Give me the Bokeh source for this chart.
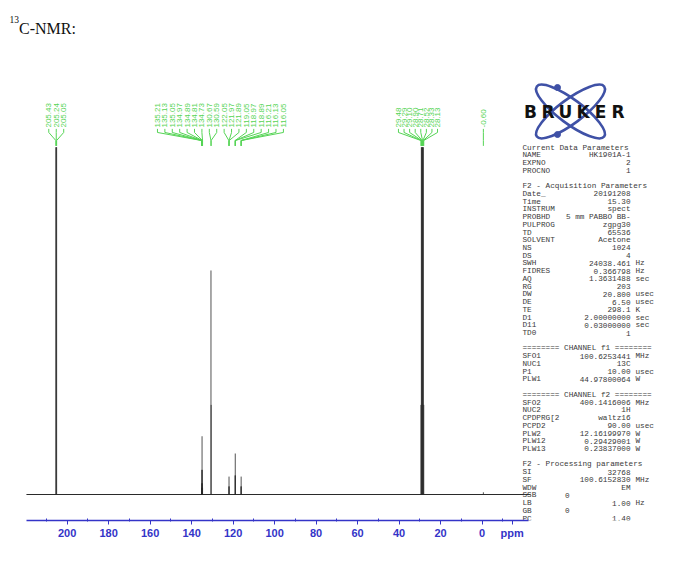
import numpy as np
from bokeh.plotting import figure
from bokeh.models import Range1d, FixedTicker
from bokeh.core.properties import value
from bokeh.embed import file_html
from bokeh.resources import INLINE

# ---------------- data ----------------
carbonyl_ppm = [205.43, 205.24, 205.05]
carbonyl_int = [155, 155, 155]
aromatic_ppm = [135.21, 135.13, 135.05, 134.97, 134.89, 134.81, 134.73,
                130.67, 130.59,
                122.05, 121.97, 121.89,
                119.05, 118.97, 118.89,
                116.21, 116.13, 116.05]
aromatic_int = [3, 5, 11, 26, 11, 5, 3,
                100, 40,
                3.6, 8, 3.6,
                8.5, 18.3, 8.5,
                3.6, 8, 3.6]
methyl_ppm = [29.48, 29.29, 29.10, 28.90, 28.71, 28.52, 28.33, 28.13]
methyl_int = [40, 155, 155, 155, 155, 155, 155, 40]
tms_ppm = [-0.60]
tms_int = [1.0]

axis_ticks = [200, 180, 160, 140, 120, 100, 80, 60, 40, 20, 0]
axis_minor_ticks = [210, 190, 170, 150, 130, 110, 90, 70, 50, 30, 10, -10]
axis_unit_label = "ppm"

param_keys = ["Current Data Parameters", "NAME", "EXPNO", "PROCNO", "",
              "F2 - Acquisition Parameters", "Date_", "Time", "INSTRUM", "PROBHD",
              "PULPROG", "TD", "SOLVENT", "NS", "DS", "SWH", "FIDRES", "AQ", "RG",
              "DW", "DE", "TE", "D1", "D11", "TD0", "",
              "======== CHANNEL f1 ========", "SFO1", "NUC1", "P1", "PLW1", "",
              "======== CHANNEL f2 ========", "SFO2", "NUC2", "CPDPRG[2", "PCPD2",
              "PLW2", "PLW12", "PLW13", "",
              "F2 - Processing parameters", "SI", "SF", "WDW", "SSB", "LB", "GB", "PC"]
param_values = ["", "HK1901A-1", "2", "1", "",
                "", "20191208", "15.30", "spect", "5 mm PABBO BB-",
                "zgpg30", "65536", "Acetone", "1024", "4", "24038.461", "0.366798", "1.3631488", "203",
                "20.800", "6.50", "298.1", "2.00000000", "0.03000000", "1", "",
                "", "100.6253441", "13C", "10.00", "44.97800064", "",
                "", "400.1416006", "1H", "waltz16", "90.00",
                "12.16199970", "0.29429001", "0.23837000", "",
                "", "32768", "100.6152830", "EM", "0", "1.00", "0", "1.40"]
param_units = ["", "", "", "", "",
               "", "", "", "", "",
               "", "", "", "", "", "Hz", "Hz", "sec", "",
               "usec", "usec", "K", "sec", "sec", "", "",
               "", "MHz", "", "usec", "W", "",
               "", "MHz", "", "", "usec",
               "W", "W", "W", "",
               "", "", "MHz", "", "", "Hz", "", ""]
short_value_keys = ["SSB", "GB"]

logo_letters = list("BRUKER")

assert len(param_keys) == len(param_values) == len(param_units)

# ---------------- styles ----------------
BLUE = "#3434c8"
GREEN = "#55d455"
LOGO_BLUE = "#3f51a6"
TXT = "#3a3a3a"

p = figure(width=680, height=560,
           x_range=Range1d(232.1, -95.6), y_range=Range1d(-11.6, 220.5),
           output_backend="svg", toolbar_location=None,
           min_border_left=0, min_border_right=0, min_border_top=0,
           min_border_bottom=40, y_axis_location=None)
p.extra_x_ranges = {"px": Range1d(0, 680)}
p.extra_y_ranges = {"px": Range1d(520, 0)}
p.grid.visible = False
p.outline_line_color = None
p.background_fill_color = "white"
p.border_fill_color = "white"

# axis (the unit label sits where the next tick would be)
unit_pos = -14.5
ax = p.xaxis[0]
ax.ticker = FixedTicker(ticks=axis_ticks + [unit_pos], minor_ticks=axis_minor_ticks)
ax.major_label_overrides = {unit_pos: axis_unit_label}
ax.bounds = (-22.5, 219.6)
ax.axis_line_color = BLUE
ax.axis_line_width = 1.3
ax.major_tick_line_color = BLUE
ax.major_tick_out = 4
ax.major_tick_in = 0
ax.minor_tick_line_color = BLUE
ax.minor_tick_in = 2
ax.minor_tick_out = 1
ax.major_label_text_color = BLUE
ax.major_label_text_font = "Liberation Sans"
ax.major_label_text_font_style = "bold"
ax.major_label_text_font_size = "11px"
ax.major_label_standoff = 2

# spectrum
all_ppm = carbonyl_ppm + aromatic_ppm + methyl_ppm + tms_ppm
all_int = carbonyl_int + aromatic_int + methyl_int + tms_int
p.segment(x0=[219.6], y0=[0], x1=[-23.3], y1=[0], line_color="#2a2a2a", line_width=1.1)
p.segment(x0=all_ppm, y0=[0] * len(all_ppm), x1=all_ppm, y1=all_int,
          line_color="#262626", line_width=0.8)

# peak labels with leaders
groups = [(carbonyl_ppm, 3.6, 0.0), (aromatic_ppm, 3.57, -0.4),
          (methyl_ppm, 2.69, 2.1), (tms_ppm, 3.6, 0.0)]
y_text, y_a, y_b, y_c, y_d = 163.8, 163.2, 161.6, 158.0, 155.6
lx_all, lt_all, xs, ys = [], [], [], []
for ppms, step, shift in groups:
    n = len(ppms)
    center = float(np.mean(ppms)) + shift
    for i, v in enumerate(ppms):
        lx = center + ((n - 1) / 2 - i) * step
        lx_all.append(lx)
        lt_all.append(f"{v:.2f}")
        xs.append([lx, lx, v, v])
        ys.append([y_a, y_b, y_c, y_d])
p.multi_line(xs=xs, ys=ys, line_color=GREEN, line_width=1)
p.text(x=lx_all, y=[y_text] * len(lx_all), text=lt_all, angle=np.pi / 2,
       text_align="left", text_baseline="middle", text_color=GREEN,
       text_font=value("Liberation Sans"), text_font_size="8px")

# title
p.text(x=[9], y=[18.5], text=["13"], x_range_name="px", y_range_name="px",
       text_font=value("Liberation Serif"), text_font_size="9.5px",
       text_color="#111111", text_align="left", text_baseline="alphabetic")
p.text(x=[18.5], y=[28], text=["C-NMR:"], x_range_name="px", y_range_name="px",
       text_font=value("Liberation Serif"), text_font_size="16px",
       text_color="#111111", text_align="left", text_baseline="alphabetic")

# logo
p.ellipse(x=[570, 570], y=[111, 111], width=[84, 84], height=[24, 24],
          angle=[0.64, -0.64], width_units="screen", height_units="screen",
          fill_color=None, line_color=LOGO_BLUE, line_width=2.6,
          x_range_name="px", y_range_name="px")
p.scatter(x=[557, 557], y=[87, 134], size=6, color=LOGO_BLUE,
          x_range_name="px", y_range_name="px")
p.text(x=[530 + 17.5 * i for i in range(len(logo_letters))],
       y=[111] * len(logo_letters), text=logo_letters,
       x_range_name="px", y_range_name="px",
       text_font=value("DejaVu Sans"), text_font_style="bold", text_font_size="17px",
       text_color="#111111", text_align="center", text_baseline="middle")

# parameter panel
line_h = 7.73
y0 = 147
kx, vx, ux, svx = 522, 630, 635, 569
kx_l, ky_l, kt = [], [], []
vx_l, vy_l, vt = [], [], []
ux_l, uy_l, ut = [], [], []
for i, (k, v, u) in enumerate(zip(param_keys, param_values, param_units)):
    y = y0 + i * line_h
    if k:
        kx_l.append(kx); ky_l.append(y); kt.append(k)
    if v:
        vx_l.append(svx if k in short_value_keys else vx); vy_l.append(y); vt.append(v)
    if u:
        ux_l.append(ux); uy_l.append(y); ut.append(u)

common = dict(x_range_name="px", y_range_name="px", text_font=value("Liberation Mono"),
              text_font_size="7.7px", text_color=TXT, text_baseline="middle")
p.text(x=kx_l, y=ky_l, text=kt, text_align="left", **common)
p.text(x=vx_l, y=vy_l, text=vt, text_align="right", **common)
p.text(x=ux_l, y=uy_l, text=ut, text_align="left", **common)

open("out.html", "w").write(file_html(p, INLINE))
